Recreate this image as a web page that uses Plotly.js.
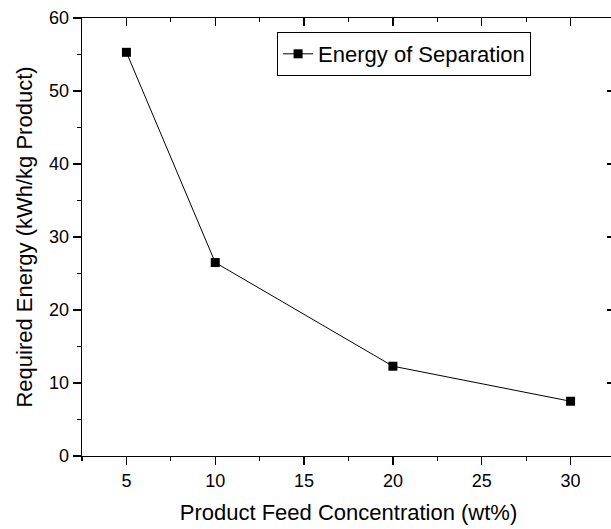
<!DOCTYPE html>
<html>
<head>
<meta charset="utf-8">
<script src="https://cdn.plot.ly/plotly-3.0.1.min.js"></script>
<style>
html,body{margin:0;padding:0;overflow:hidden;background:#fff;}
#chart{width:620px;height:529px;}
</style>
</head>
<body>
<div id="chart"></div>
<script>
const concentration = [5, 10, 20, 30];
const energy = [55.3, 26.5, 12.3, 7.5];
const seriesName = "Energy of Separation";
const xTitle = "Product Feed Concentration (wt%)";
const yTitle = "Required Energy (kWh/kg Product)";

const font = "Liberation Sans, Arial, sans-serif";

const traces = [
  {
    x: concentration, y: energy, name: seriesName,
    type: "scatter", mode: "lines+markers",
    line: {color: "#000", width: 1},
    marker: {symbol: "square", size: 9, color: "#000"}
  },
  {
    x: concentration, y: energy, xaxis: "x2", yaxis: "y2",
    type: "scatter", mode: "markers", showlegend: false,
    marker: {opacity: 0}, hoverinfo: "skip"
  }
];

const axBase = {
  showgrid: false, zeroline: false, showline: true, linecolor: "#000", linewidth: 1.3,
  tickcolor: "#000", ticklen: 8, tickwidth: 1.2
};

const layout = {
  width: 620, height: 529,
  margin: {l: 81.5, r: 4.5, t: 18, b: 73},
  paper_bgcolor: "#fff", plot_bgcolor: "#fff",
  font: {family: font, color: "#000", size: 18},
  showlegend: true,
  legend: {
    x: 0.366, y: 0.968, xanchor: "left", yanchor: "top",
    bordercolor: "#000", borderwidth: 1, bgcolor: "#fff",
    font: {family: font, size: 22, color: "#000"}
  },
  xaxis: Object.assign({}, axBase, {
    range: [2.5, 32.5], tick0: 0, dtick: 5, ticks: "outside", mirror: true,
    tickfont: {family: font, size: 18},
    minor: {dtick: 2.5, tick0: 0, ticklen: 4, ticks: "outside", tickcolor: "#000", tickwidth: 1.2},
    title: {text: xTitle, font: {family: font, size: 22}, standoff: 14}
  }),
  yaxis: Object.assign({}, axBase, {
    range: [0, 60], tick0: 0, dtick: 10, ticks: "outside", mirror: true,
    tickfont: {family: font, size: 18},
    minor: {dtick: 5, tick0: 0, ticklen: 4, ticks: "outside", tickcolor: "#000", tickwidth: 1.2},
    title: {text: yTitle, font: {family: font, size: 22}, standoff: 10}
  }),
  xaxis2: Object.assign({}, axBase, {
    overlaying: "x", side: "top", range: [2.5, 32.5], tick0: 0, dtick: 5,
    ticks: "inside", showticklabels: false, showline: false,
    minor: {dtick: 2.5, tick0: 0, ticklen: 4, ticks: "inside", tickcolor: "#000", tickwidth: 1.2}
  }),
  yaxis2: Object.assign({}, axBase, {
    overlaying: "y", side: "right", range: [0, 60], tick0: 0, dtick: 10,
    ticks: "inside", showticklabels: false, showline: false,
    minor: {dtick: 5, tick0: 0, ticklen: 4, ticks: "inside", tickcolor: "#000", tickwidth: 1.2}
  })
};

Plotly.newPlot("chart", traces, layout, {displayModeBar: false, staticPlot: true});
</script>
</body>
</html>
